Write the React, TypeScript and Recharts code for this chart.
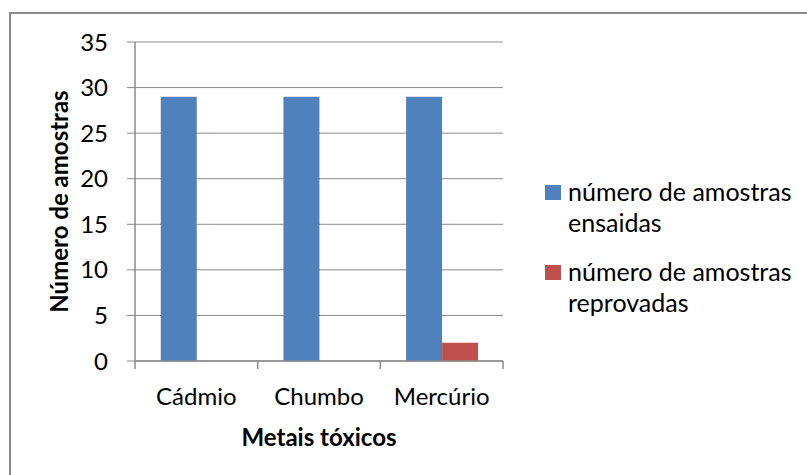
import React from "react";
import {
  Bar,
  BarChart,
  CartesianGrid,
  XAxis,
  YAxis,
} from "recharts";

const metais = ["Cádmio", "Chumbo", "Mercúrio"];
const ensaiadas = [29, 29, 29];
const reprovadas = [0, 0, 2];
const yTicks = [0, 5, 10, 15, 20, 25, 30, 35];
const seriesNames = ["número de amostras ensaidas", "número de amostras reprovadas"];

const data = metais.map((m, i) => ({
  metal: m,
  ensaiadas: ensaiadas[i],
  reprovadas: reprovadas[i],
}));

const FONT = "Lato, 'Open Sans', sans-serif";
const FS = 24;
const GRID = "#8a8a8a";
const BLUE = "#4f81bd";
const RED = "#c0504d";

function CategoryTick(props: any) {
  const { x, y, payload, index } = props;
  const half = payload?.offset ?? 61;
  const top = y - 8;
  return (
    <g>
      <line x1={x - half} y1={top} x2={x - half} y2={y} stroke={GRID} strokeWidth={1.5} />
      {index === metais.length - 1 && (
        <line x1={x + half} y1={top} x2={x + half} y2={y} stroke={GRID} strokeWidth={1.5} />
      )}
      <text x={x} y={y + 36} textAnchor="middle" fontFamily={FONT} fontSize={FS} fill="#000">
        {payload.value}
      </text>
    </g>
  );
}

function LegendBox() {
  const item = (color: string, name: string) => {
    const words = name.split(" ");
    const l1 = words.slice(0, 3).join(" ");
    const l2 = words.slice(3).join(" ");
    return (
      <div style={{ display: "flex", alignItems: "flex-start", marginBottom: 18 }}>
        <div style={{ width: 16, height: 15, background: color, marginTop: 9, marginRight: 7 }} />
        <div style={{ lineHeight: "31px" }}>
          {l1}
          <br />
          {l2}
        </div>
      </div>
    );
  };
  return (
    <div
      style={{
        position: "absolute",
        left: 545,
        top: 176,
        fontFamily: FONT,
        fontSize: 25,
        color: "#000",
        whiteSpace: "nowrap",
      }}
    >
      {item(BLUE, seriesNames[0])}
      {item(RED, seriesNames[1])}
    </div>
  );
}

export default function App() {
  return (
    <div
      style={{
        position: "absolute",
        left: 0,
        top: 0,
        width: 807,
        height: 475,
        overflow: "hidden",
        background: "#fff",
      }}
    >
      <div
        style={{
          position: "absolute",
          left: 9,
          top: 12,
          width: 900,
          height: 600,
          border: `2px solid ${GRID}`,
        }}
      />
      <BarChart
        width={807}
        height={475}
        data={data}
        margin={{ top: 42, right: 304, bottom: 0, left: 0 }}
        barCategoryGap="21%"
        barGap={0}
        style={{ position: "absolute", left: 0, top: 0 }}
      >
        <CartesianGrid vertical={false} stroke={GRID} strokeWidth={1} />
        <XAxis
          dataKey="metal"
          height={114}
          tickLine={false}
          tickSize={8}
          tickMargin={0}
          axisLine={{ stroke: GRID, strokeWidth: 1.5 }}
          tick={<CategoryTick />}
          interval={0}
          label={{
            content: (p: any) => {
              const vb = p.viewBox;
              return (
                <text
                  x={vb.x + vb.width / 2}
                  y={446}
                  textAnchor="middle"
                  fontFamily={FONT}
                  fontSize={FS}
                  fontWeight="bold"
                  fill="#000"
                >
                  Metais tóxicos
                </text>
              );
            },
          }}
        />
        <YAxis
          width={135}
          domain={[0, 35]}
          ticks={yTicks}
          interval={0}
          tickSize={8}
          tickMargin={19}
          tickLine={{ stroke: GRID, strokeWidth: 1 }}
          axisLine={{ stroke: GRID, strokeWidth: 1.5 }}
          tick={{ fontFamily: FONT, fontSize: FS, fill: "#000" }}
          label={{
            content: (p: any) => {
              const vb = p.viewBox;
              const cx = 58;
              const cy = vb.y + vb.height / 2;
              return (
                <text
                  x={cx}
                  y={cy}
                  transform={`rotate(-90 ${cx} ${cy})`}
                  textAnchor="middle"
                  dominantBaseline="central"
                  fontFamily={FONT}
                  fontSize={FS}
                  fontWeight="bold"
                  fill="#000"
                >
                  Número de amostras
                </text>
              );
            },
          }}
        />
        <Bar dataKey="ensaiadas" name={seriesNames[0]} fill={BLUE} isAnimationActive={false} />
        <Bar dataKey="reprovadas" name={seriesNames[1]} fill={RED} isAnimationActive={false} />
      </BarChart>
      <LegendBox />
    </div>
  );
}
